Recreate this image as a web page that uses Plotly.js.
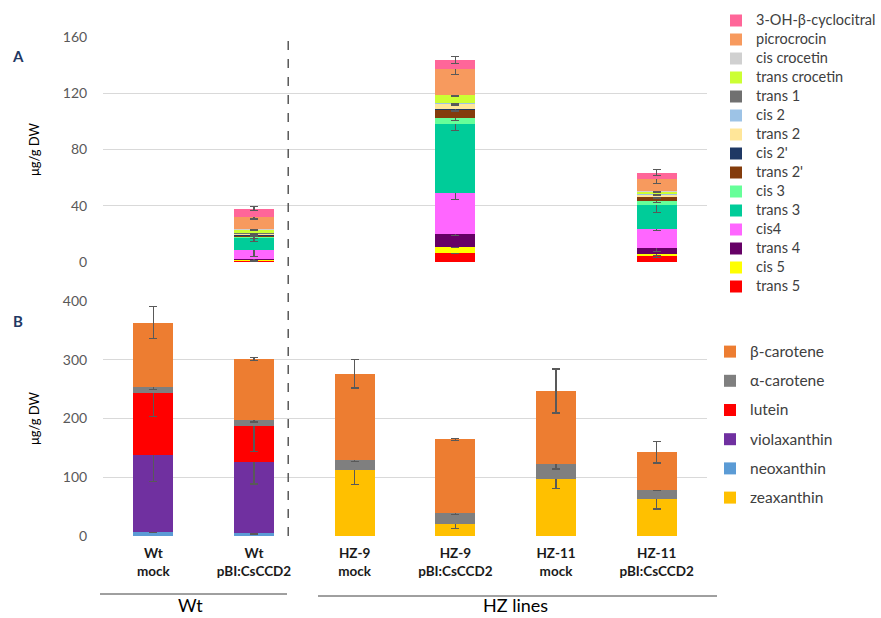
<!DOCTYPE html>
<html><head><meta charset="utf-8">
<script src="https://cdn.plot.ly/plotly-3.0.1.min.js"></script>
<style>body{margin:0;background:#fff}#chart{width:881px;height:618px}</style>
</head><body><div id="chart"></div>
<script>
// Categories
var categories = ['Wt mock','Wt pBI:CsCCD2','HZ-9 mock','HZ-9 pBI:CsCCD2','HZ-11 mock','HZ-11 pBI:CsCCD2'];
var tickLabels = ['<b>Wt</b><br><b>mock</b>','<b>Wt</b><br><b>pBI:CsCCD2</b>','<b>HZ-9</b><br><b>mock</b>','<b>HZ-9</b><br><b>pBI:CsCCD2</b>','<b>HZ-11</b><br><b>mock</b>','<b>HZ-11</b><br><b>pBI:CsCCD2</b>'];

// Panel A (µg/g DW), stacked bottom -> top
var aNames = ['trans 5','cis 5','trans 4','cis4','trans 3','cis 3',"trans 2'","cis 2'",'trans 2','cis 2','trans 1','trans crocetin','cis crocetin','picrocrocin','3-OH-β-cyclocitral'];
var aColors = ['#FF0000','#FFFF00','#660066','#FF66FF','#00CC99','#66FF99','#843C0C','#1F3864','#FFE699','#9DC3E6','#707070','#CCFF33','#D0D0D0','#F79A5E','#FF6699'];
var trans5 = [null, 0.6, null, 6.6, null, 4.0];
var cis5 = [null, 0.6, null, 4.3, null, 1.9];
var trans4 = [null, 1.2, null, 9.0, null, 4.3];
var cis4 = [null, 6.4, null, 28.9, null, 13.0];
var trans3 = [null, 8.5, null, 49.3, null, 17.1];
var cis3 = [null, 0.5, null, 4.0, null, 3.1];
var trans2p = [null, 1.0, null, 5.9, null, 2.8];
var cis2p = [null, 0.3, null, 0.5, null, 0.3];
var trans2 = [null, 0.8, null, 4.0, null, 1.5];
var cis2 = [null, 0.3, null, 0.4, null, 0.3];
var trans1 = [null, 0.5, null, 0.5, null, 0.4];
var transCrocetin = [null, 2.3, null, 5.2, null, 1.4];
var cisCrocetin = [null, 0.3, null, 0.4, null, 0.3];
var picrocrocin = [null, 8.5, null, 18.1, null, 8.4];
var cyclocitral = [null, 6.2, null, 6.6, null, 4.7];
var aValues = [trans5,cis5,trans4,cis4,trans3,cis3,trans2p,cis2p,trans2,cis2,trans1,transCrocetin,cisCrocetin,picrocrocin,cyclocitral];
// Panel A error bars
var eTrans5 = [null,0.5,null,0.6,null,0.8];
var eCis5 = [null,0.5,null,0.6,null,1.0];
var eTrans4 = [null,1.5,null,1.2,null,2.5];
var eCis4 = [null,5.0,null,4.4,null,1.0];
var eTrans3 = [null,3.0,null,4.7,null,5.0];
var eCis3 = [null,1.0,null,1.5,null,1.2];
var eTrans2p = [null,0.5,null,0.8,null,1.0];
var eCis2p = [null,0.3,null,0.5,null,0.3];
var eTrans2 = [null,0.5,null,0.8,null,0.5];
var eCis2 = [null,0.3,null,0.5,null,0.3];
var eTrans1 = [null,0.5,null,0.6,null,0.5];
var eTransCrocetin = [null,0.8,null,0.6,null,0.6];
var eCisCrocetin = [null,0.5,null,0.6,null,0.5];
var ePicrocrocin = [null,1.2,null,3.9,null,3.2];
var eCyclocitral = [null,1.2,null,2.5,null,2.1];
var aErrors = [eTrans5,eCis5,eTrans4,eCis4,eTrans3,eCis3,eTrans2p,eCis2p,eTrans2,eCis2,eTrans1,eTransCrocetin,eCisCrocetin,ePicrocrocin,eCyclocitral];

// Panel B (µg/g DW), stacked bottom -> top
var bNames = ['zeaxanthin','neoxanthin','violaxanthin','lutein','α-carotene','β-carotene'];
var bColors = ['#FFC000','#5B9BD5','#7030A0','#FF0000','#7F7F7F','#ED7D31'];
var zeaxanthin = [null, null, 111.8, 21.0, 97.6, 62.4];
var neoxanthin = [6.3, 4.5, null, null, null, null];
var violaxanthin = [131.6, 120.9, null, null, null, null];
var lutein = [106.0, 62.4, null, null, null, null];
var alphaCarotene = [9.1, 10.2, 18.2, 18.2, 25.0, 16.5];
var betaCarotene = [110.0, 102.7, 146.4, 125.4, 124.3, 63.5];
var bValues = [zeaxanthin, neoxanthin, violaxanthin, lutein, alphaCarotene, betaCarotene];
var eZeaxanthin = [null, null, 24, 8.5, 16.5, 16.5];
var eNeoxanthin = [1, 1, null, null, null, null];
var eViolaxanthin = [45, 37, null, null, null, null];
var eLutein = [40, 44, null, null, null, null];
var eAlpha = [4, 4, 3, 2.5, 8.5, 2];
var eBeta = [27, 2.5, 24.4, 2, 37.4, 18.2];
var bErrors = [eZeaxanthin, eNeoxanthin, eViolaxanthin, eLutein, eAlpha, eBeta];

var errStyle = {color:'#595959', thickness:1.2, width:4};
var traces = [];
aNames.forEach(function(n,i){
  traces.push({type:'bar', name:'<span style="font-size:14.5px">' + n + '</span>', x:categories, y:aValues[i], xaxis:'x', yaxis:'y',
    marker:{color:aColors[i], line:{width:0}}, legend:'legend', legendrank:100 - i,
    error_y:Object.assign({type:'data', array:aErrors[i], visible:true}, errStyle)});
});
bNames.forEach(function(n,i){
  traces.push({type:'bar', name:'<span style="font-size:15.5px">' + n + '</span>', x:categories, y:bValues[i], xaxis:'x2', yaxis:'y2',
    marker:{color:bColors[i], line:{width:0}}, legend:'legend2', legendgroup:'b'+i, legendrank:100 - i,
    error_y:Object.assign({type:'data', array:bErrors[i], visible:true}, errStyle)});
});

var W = 881, H = 618, L = 103, R = 174;
function px(x){ return (x - L) / (W - L - R); }
function py(y){ return 1 - y / H; }
var font = 'Lato, "Open Sans", sans-serif';
var yBase = {showgrid:true, gridcolor:'#D9D9D9', gridwidth:1, zeroline:false, showline:false,
  ticks:'outside', ticklen:12, tickcolor:'rgba(0,0,0,0)', tickfont:{size:14, color:'#595959', family:font},
  title:{text:'μg/g DW', font:{size:13, color:'#000'}, standoff:20}};

var layout = {
  width:W, height:H, margin:{l:L, r:R, t:0, b:0}, paper_bgcolor:'#fff', plot_bgcolor:'#fff',
  font:{family:font, color:'#404040'}, barmode:'stack', bargap:0.6, showlegend:true,
  xaxis:{type:'category', domain:[0,1], anchor:'y', range:[-0.5,5.5], showticklabels:false, showgrid:false, zeroline:false, showline:false},
  xaxis2:{type:'category', domain:[0,1], anchor:'y2', range:[-0.5,5.5], showgrid:false, zeroline:false, showline:false,
    tickvals:categories, ticktext:tickLabels, ticks:'outside', ticklen:5, tickcolor:'rgba(0,0,0,0)', tickfont:{size:13.5, color:'#1a1a1a', family:font}},
  yaxis:Object.assign({}, yBase, {domain:[py(262), py(37)], range:[0,160], tickvals:[0,40,80,120,160]}),
  yaxis2:Object.assign({}, yBase, {domain:[py(536), py(301)], range:[0,400], tickvals:[0,100,200,300,400]}),
  legend:{x:px(716), y:py(6), xanchor:'left', yanchor:'top', traceorder:'normal',
    font:{size:12, color:'#404040', family:font}, bgcolor:'rgba(0,0,0,0)'},
  legend2:{x:px(710), y:py(336), xanchor:'left', yanchor:'top', traceorder:'grouped', tracegroupgap:8,
    font:{size:14, color:'#404040', family:font}, bgcolor:'rgba(0,0,0,0)'},
  shapes:[
    {type:'line', xref:'x2', yref:'paper', x0:1.34, x1:1.34, y0:py(536), y1:py(37), line:{color:'#595959', width:1.5, dash:'dash'}},
    {type:'line', xref:'paper', yref:'paper', x0:px(100), x1:px(287), y0:py(594), y1:py(594), line:{color:'#404040', width:1}},
    {type:'line', xref:'paper', yref:'paper', x0:px(318), x1:px(717), y0:py(596), y1:py(596), line:{color:'#404040', width:1}}
  ],
  annotations:[
    {text:'<b>A</b>', xref:'paper', yref:'paper', x:px(18), y:py(56), xanchor:'center', yanchor:'middle', showarrow:false, font:{size:15, color:'#1F3864', family:font}},
    {text:'<b>B</b>', xref:'paper', yref:'paper', x:px(18), y:py(321), xanchor:'center', yanchor:'middle', showarrow:false, font:{size:15, color:'#1F3864', family:font}},
    {text:'Wt', xref:'paper', yref:'paper', x:px(190), y:py(605), xanchor:'center', yanchor:'middle', showarrow:false, font:{size:18, color:'#000', family:font}},
    {text:'HZ lines', xref:'paper', yref:'paper', x:px(515), y:py(605), xanchor:'center', yanchor:'middle', showarrow:false, font:{size:18, color:'#000', family:font}}
  ]
};
Plotly.newPlot('chart', traces, layout, {displayModeBar:false, staticPlot:true});
</script></body></html>
